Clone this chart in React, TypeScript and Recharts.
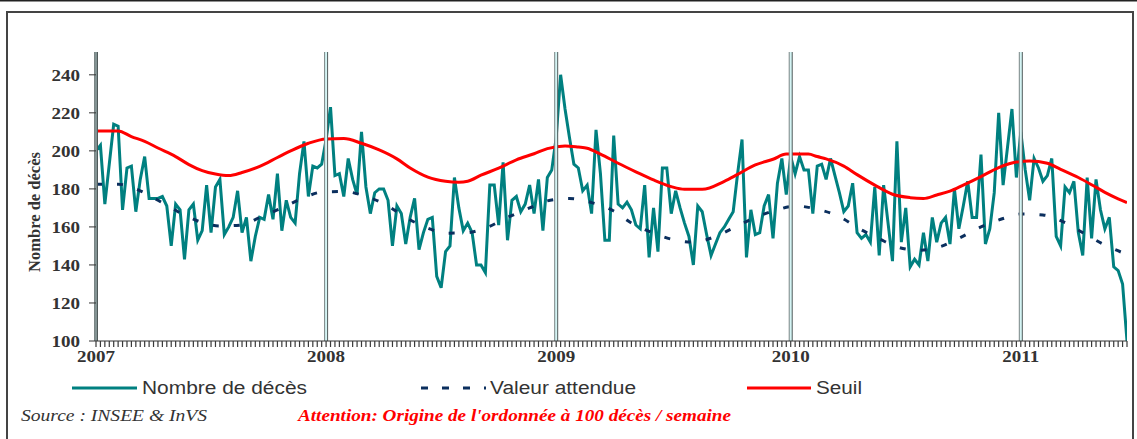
import { LineChart, Line, XAxis, YAxis, ReferenceLine } from 'recharts'

const years = ['2007', '2008', '2009', '2010', '2011']
const yearStartWeeks = [0, 52, 104, 157, 209]
const yTicks = [100, 120, 140, 160, 180, 200, 220, 240]

// weekly deaths, one value per week from the first week of 2007
const deaths = [
  // 2007
  200, 203, 172, 193, 214, 213, 169, 191, 192, 168, 185, 197, 175, 175, 175, 176, 171, 150, 172, 169,
  143, 169, 172, 153, 158, 182, 157, 181, 185, 156, 160, 165, 179, 157, 165, 142, 155, 165, 164, 177,
  164, 188, 158, 174, 165, 162, 188, 205, 176, 192, 191, 193,
  // 2008
  206, 223, 187, 188, 176, 196, 185, 177, 210, 181, 167, 178, 180, 180, 174, 150, 171, 167, 151, 165,
  175, 148, 157, 164, 165, 134, 128, 147, 150, 186, 170, 158, 162, 157, 140, 140, 136, 182, 182, 161,
  194, 153, 174, 176, 168, 172, 182, 167, 185, 158, 186, 190,
  // 2009
  207, 240, 222, 207, 193, 191, 179, 182, 167, 211, 188, 153, 153, 208, 172, 170, 173, 169, 161, 159,
  182, 144, 170, 147, 191, 191, 167, 179, 170, 162, 155, 140, 171, 168, 156, 145, 151, 157, 160, 164,
  168, 188, 206, 144, 169, 156, 157, 171, 177, 154, 183, 196, 177,
  // 2010
  197, 188, 197, 190, 190, 167, 192, 193, 185, 196, 187, 178, 168, 171, 183, 157, 154, 156, 152, 181,
  145, 182, 162, 142, 205, 152, 170, 139, 143, 140, 157, 142, 165, 152, 162, 165, 151, 180, 159, 171,
  184, 165, 165, 198, 151, 159, 178, 220, 182, 202, 222, 186,
  // 2011
  210, 190, 174, 196, 191, 184, 187, 196, 155, 150, 181, 178, 184, 157, 145, 186, 154, 185, 169, 159,
  165, 139, 137, 130, 100,
]

const expectedWeeks = [
  0, 5, 10, 14, 19, 24, 28, 33, 37, 42, 47, 51, 56, 61, 66, 70, 75, 79, 84, 88, 93, 98, 102, 107, 112,
  117, 121, 126, 131, 135, 140, 144, 149, 154, 158, 163, 168, 172, 177, 181, 186, 191, 195, 200, 205,
  209, 214, 219, 223, 228, 233,
]
const expectedValues = [
  182.5, 182.5, 179, 174, 167.5, 162.3, 160.5, 161, 165, 170, 175.4, 178.3, 178.6, 176, 171, 165, 159.4,
  156.7, 157, 159.4, 165, 170, 173.7, 175, 172.8, 168.4, 162, 156.7, 153, 152, 155, 159.4, 165, 169, 171,
  169.3, 165.4, 159.7, 153.8, 149.5, 147.7, 149.8, 154, 160, 164.4, 166.8, 166.3, 162.3, 157, 150.5, 145.5,
]

const thresholdWeeks = [
  0, 5, 8, 11, 14, 18, 21, 24, 27, 30, 33, 37, 41, 44, 48, 52, 56, 60, 64, 68, 71, 75, 79, 82, 84, 87, 91,
  95, 99, 102, 106, 109, 111, 114, 118, 122, 126, 130, 133, 137, 142, 145, 149, 153, 156, 161, 163, 165,
  169, 172, 176, 180, 184, 187, 190, 193, 196, 200, 204, 207, 211, 215, 218, 222, 225, 228, 231, 233,
]
const thresholdValues = [
  210.5, 210.5, 207.5, 205, 201.5, 197, 192.8, 189.6, 187.8, 187, 188.6, 191.8, 196.5, 200, 204, 206.3,
  206.5, 204, 200.5, 195.8, 191, 186.2, 184, 183.5, 184, 187.2, 190.9, 195.3, 198.5, 201.2, 202.6, 202,
  201.4, 198.3, 193.5, 189, 184.7, 181.2, 179.8, 179.8, 184, 187.6, 192.6, 195.6, 198.3, 198.3, 197,
  195.8, 192, 187.5, 182, 177.2, 175.4, 175, 176.8, 178.8, 182, 186.5, 191.2, 193.6, 194.7, 193.5, 190.3,
  186, 182.2, 178.2, 174.8, 172.8,
]

const deathsData = deaths.map((v, i) => ({ week: i, deaths: v }))
const expectedData = expectedWeeks.map((w, i) => ({ week: w, expected: expectedValues[i] }))
const thresholdData = thresholdWeeks.map((w, i) => ({ week: w, threshold: thresholdValues[i] }))
const weekTicks = deaths.map((_, i) => i)

const TEAL = '#008080'
const NAVY = '#0b2f5e'
const RED = '#ff0000'
const serif = '"Liberation Serif", "Times New Roman", serif'
const sans = '"Liberation Sans", Arial, sans-serif'

// week tick mark; the first week of each year also carries the year
const WeekTick = ({ x, y, payload }: { x?: number; y?: number; payload?: { value: number } }) => {
  const idx = yearStartWeeks.indexOf(payload?.value ?? -1)
  const ty = y ?? 0
  return (
    <g>
      <rect x={(x ?? 0) - 0.6} y={ty} width={1.2} height={6} fill="#3a3a3a" />
      {idx >= 0 && (
        <text
          transform={`translate(${x},${ty + 21}) scale(1.12,1)`}
          textAnchor="middle"
          fontFamily={serif}
          fontWeight="bold"
          fontSize={17}
          fill="#333"
        >
          {years[idx]}
        </text>
      )}
    </g>
  )
}

const ValueTick = ({ x, y, payload }: { x?: number; y?: number; payload?: { value: number } }) => (
  <text
    transform={`translate(${x},${(y ?? 0) + 6}) scale(1.12,1)`}
    textAnchor="end"
    fontFamily={serif}
    fontWeight="bold"
    fontSize={17}
    fill="#333"
  >
    {payload?.value}
  </text>
)

const YearBar = (p: { x1?: number; y1?: number; y2?: number }) => {
  const x = p.x1 ?? 0
  const top = Math.min(p.y1 ?? 0, p.y2 ?? 0)
  const h = Math.abs((p.y2 ?? 0) - (p.y1 ?? 0))
  return (
    <g>
      <rect x={x - 1.5} y={top} width={3} height={h} fill="#d4f4f4" />
      <line x1={x - 1.5} x2={x - 1.5} y1={top} y2={top + h} stroke="#7a8585" strokeWidth={1} />
      <line x1={x + 1.5} x2={x + 1.5} y1={top} y2={top + h} stroke="#505a5a" strokeWidth={1} />
    </g>
  )
}

export default function App() {
  return (
    <div style={{ position: 'absolute', left: 0, top: 0, width: 1137, height: 439, background: '#fff', overflow: 'hidden' }}>
      <svg width={1137} height={439} style={{ position: 'absolute', left: 0, top: 0 }}>
        <rect x={0} y={0} width={1137} height={1.5} fill="#222" />
        <rect x={7} y={12} width={1126} height={440} fill="none" stroke="#444" strokeWidth={2} />
      </svg>
      <div style={{ position: 'absolute', left: 0, top: 0 }}>
        <LineChart width={1137} height={439} margin={{ top: 52, right: 10, left: 0, bottom: 68 }}>
          <XAxis
            type="number"
            dataKey="week"
            domain={[0, 233]}
            ticks={weekTicks}
            interval={0}
            minTickGap={0}
            tickSize={0}
            tickMargin={0}
            tick={<WeekTick />}
            axisLine={{ stroke: '#333' }}
            tickLine={false}
            height={30}
            allowDataOverflow
          />
          <YAxis
            type="number"
            domain={[100, 252]}
            ticks={yTicks}
            interval={0}
            width={96}
            tickSize={7}
            tickMargin={9}
            tick={<ValueTick />}
            axisLine={{ stroke: '#333' }}
            tickLine={{ stroke: '#333' }}
            allowDataOverflow
          />
          <Line data={deathsData} dataKey="deaths" type="linear" stroke={TEAL} strokeWidth={3} dot={false} isAnimationActive={false} />
          <Line data={thresholdData} dataKey="threshold" type="monotone" stroke={RED} strokeWidth={3} dot={false} isAnimationActive={false} />
          <Line data={expectedData} dataKey="expected" type="monotone" stroke={NAVY} strokeWidth={3} strokeDasharray="6 15" dot={false} isAnimationActive={false} />
          {yearStartWeeks.map(w => (
            <ReferenceLine key={w} x={w} shape={YearBar} />
          ))}
        </LineChart>
      </div>
      <svg width={1137} height={439} style={{ position: 'absolute', left: 0, top: 0, pointerEvents: 'none' }}>
        <text transform="translate(40,212) rotate(-90)" textAnchor="middle" fontFamily={serif} fontWeight="bold" fontSize={16.5} fill="#333">
          Nombre de décès
        </text>
        <line x1={72} x2={137} y1={388} y2={388} stroke={TEAL} strokeWidth={3} />
        <text x={142} y={394} fontFamily={sans} fontSize={18} fill="#333" textLength={165} lengthAdjust="spacingAndGlyphs">
          Nombre de décès
        </text>
        <line x1={421} x2={486} y1={388} y2={388} stroke={NAVY} strokeWidth={3} strokeDasharray="7 14" />
        <text x={490} y={394} fontFamily={sans} fontSize={18} fill="#333" textLength={146} lengthAdjust="spacingAndGlyphs">
          Valeur attendue
        </text>
        <line x1={747} x2={811} y1={388} y2={388} stroke={RED} strokeWidth={3} />
        <text x={816} y={394} fontFamily={sans} fontSize={18} fill="#333" textLength={46} lengthAdjust="spacingAndGlyphs">
          Seuil
        </text>
        <text x={21} y={421} fontFamily={serif} fontStyle="italic" fontSize={16} fill="#333" textLength={186} lengthAdjust="spacingAndGlyphs">
          Source : INSEE &amp; InVS
        </text>
        <text x={298} y={421} fontFamily={serif} fontStyle="italic" fontWeight="bold" fontSize={16} fill={RED} textLength={433} lengthAdjust="spacingAndGlyphs">
          Attention: Origine de l'ordonnée à 100 décès / semaine
        </text>
      </svg>
    </div>
  )
}
